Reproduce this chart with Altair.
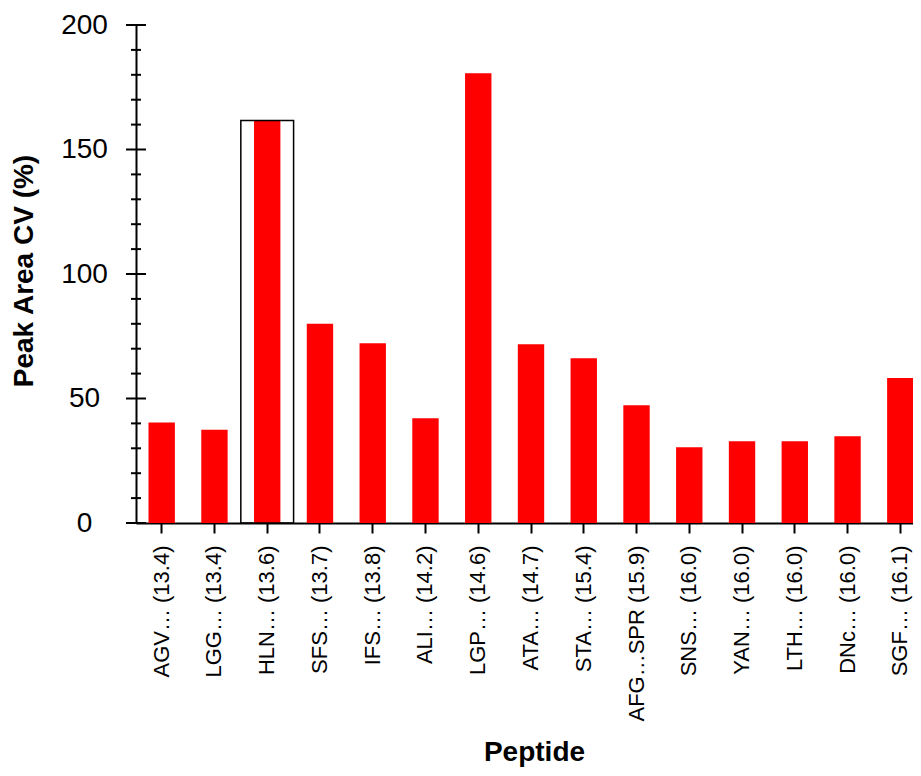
import altair as alt
import pandas as pd

peptides = [
    "AGV… (13.4)", "LGG… (13.4)", "HLN… (13.6)", "SFS… (13.7)", "IFS… (13.8)",
    "ALI… (14.2)", "LGP… (14.6)", "ATA… (14.7)", "STA… (15.4)", "AFG…SPR (15.9)",
    "SNS… (16.0)", "YAN… (16.0)", "LTH… (16.0)", "DNc… (16.0)", "SGF… (16.1)",
]
cv_values = [40.4, 37.5, 161.6, 80.0, 72.2, 42.1, 180.6, 71.8, 66.2, 47.3,
             30.4, 32.8, 32.8, 34.8, 58.2]
highlight = "HLN… (13.6)"
major_ticks = [0, 50, 100, 150, 200]
minor_ticks = [10, 20, 30, 40, 60, 70, 80, 90, 110, 120, 130, 140, 160, 170, 180, 190]

df = pd.DataFrame({"Peptide": peptides, "CV": cv_values})
df_major = pd.DataFrame({"v": major_ticks})
df_minor = pd.DataFrame({"v": minor_ticks})

FONT = "Liberation Sans"

x_scale = alt.Scale(domain=peptides, paddingInner=0.5, paddingOuter=0.237)
y_scale = alt.Scale(domain=[0, 200], nice=False, zero=True)

x_axis = alt.Axis(
    title="Peptide", labelAngle=270, labelAlign="right", labelBaseline="middle",
    labelFont=FONT, labelFontSize=22, labelColor="black", labelPadding=12,
    labelLimit=0, labelOverlap=False,
    tickSize=10, tickWidth=2, tickColor="black",
    domainColor="black", domainWidth=2,
    titleFont=FONT, titleFontSize=28, titleFontWeight="bold", titleColor="black",
    titleX=398, titleY=237, titleAlign="center", titleBaseline="alphabetic",
)
y_axis = alt.Axis(
    title="Peak Area CV (%)", values=major_ticks, ticks=False, grid=False,
    labelFont=FONT, labelFontSize=28, labelColor="black",
    labelAlign="center", labelBaseline="middle", labelPadding=52,
    domainColor="black", domainWidth=2,
    titleFont=FONT, titleFontSize=28, titleFontWeight="bold", titleColor="black",
    titleAngle=270, titleX=-112, titleY=245.5, titleAlign="center", titleBaseline="middle",
)

bars = alt.Chart(df).mark_bar(color="#ff0000").encode(
    x=alt.X("Peptide:N", sort=None, scale=x_scale, axis=x_axis),
    y=alt.Y("CV:Q", scale=y_scale, axis=y_axis),
)

box = alt.Chart(df).transform_filter(alt.datum.Peptide == highlight).mark_bar(
    fillOpacity=0, stroke="black", strokeWidth=1.5, width=alt.RelativeBandSize(2)
).encode(
    x=alt.X("Peptide:N", sort=None, scale=x_scale, axis=x_axis),
    y=alt.Y("CV:Q", scale=y_scale, axis=y_axis),
)

major = alt.Chart(df_major).mark_rule(color="black", strokeWidth=2).encode(
    y=alt.Y("v:Q", scale=y_scale, axis=y_axis),
    x=alt.value(-10), x2=alt.value(10),
)
minor = alt.Chart(df_minor).mark_rule(color="black", strokeWidth=2).encode(
    y=alt.Y("v:Q", scale=y_scale, axis=y_axis),
    x=alt.value(-5), x2=alt.value(5),
)

chart = alt.layer(bars, box, major, minor).properties(
    width=790, height=498,
    autosize=alt.AutoSizeParams(type="none"),
    padding={"left": 128, "top": 17, "right": -13, "bottom": 245},
    background="white",
).configure_view(stroke=None)

chart.save("out.html", embed_options={"renderer": "svg", "actions": False})
